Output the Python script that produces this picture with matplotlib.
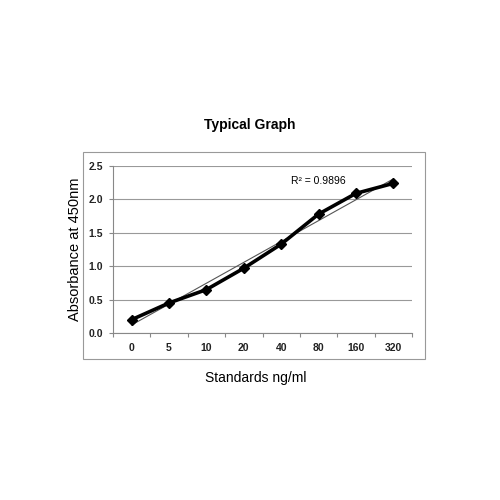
import numpy as np
import matplotlib
matplotlib.use('Agg')
import matplotlib.pyplot as plt
from matplotlib.patches import Rectangle

plt.rcParams['font.family'] = ['Liberation Sans', 'DejaVu Sans']

standards = ['0', '5', '10', '20', '40', '80', '160', '320']
absorbance = [0.20, 0.45, 0.65, 0.97, 1.33, 1.78, 2.09, 2.24]
r2_label = 'R² = 0.9896'

fig = plt.figure(figsize=(5, 5), dpi=100)
ax = fig.add_axes([0.226, 0.334, 0.598, 0.334])

xs = np.arange(len(standards))
# linear trendline against category index, like Excel does
k, b = np.polyfit(xs + 1, absorbance, 1)
ax.plot(xs, k * (xs + 1) + b, color='#555555', lw=0.8, zorder=2)
ax.plot(xs, absorbance, color='black', lw=2.6, marker='D', ms=5.5, zorder=3)

ax.set_xlim(-0.5, len(standards) - 0.5)
ax.set_ylim(0, 2.5)
yt = np.arange(0, 2.51, 0.5)
ax.set_yticks(yt)
ax.set_yticklabels(['%.1f' % v for v in yt], fontsize=7.5, fontweight='bold', color='#222222')
ax.set_xticks(np.arange(-0.5, len(standards)), labels=[''] * (len(standards) + 1))
ax.set_xticks(xs, labels=standards, minor=True, fontsize=7.5, fontweight='bold', color='#222222')
ax.tick_params(axis='x', which='minor', length=0, pad=7)
ax.tick_params(axis='x', which='major', length=3, color='#888888')
ax.tick_params(axis='y', length=3, color='#888888', pad=4)
ax.grid(axis='y', color='#999999', lw=0.8)
ax.set_axisbelow(True)
for s in ['top', 'right']:
    ax.spines[s].set_visible(False)
for s in ['left', 'bottom']:
    ax.spines[s].set_color('#888888')

ax.text(5.0, 2.2, r2_label, fontsize=7.5, ha='center', va='bottom')
ax.set_ylabel('Absorbance at 450nm', fontsize=10.5, labelpad=5)
ax.set_xlabel('Standards ng/ml', fontsize=10, labelpad=13, x=0.478)
fig.text(0.5, 0.75, 'Typical Graph', fontsize=10, fontweight='bold', ha='center', va='center')

fig.add_artist(Rectangle((83 / 500, 1 - 359 / 500), (425 - 83) / 500, (359 - 152) / 500,
                         transform=fig.transFigure, fill=False, ec='#999999', lw=0.8))

fig.savefig('out.png', dpi=100, facecolor='white')
